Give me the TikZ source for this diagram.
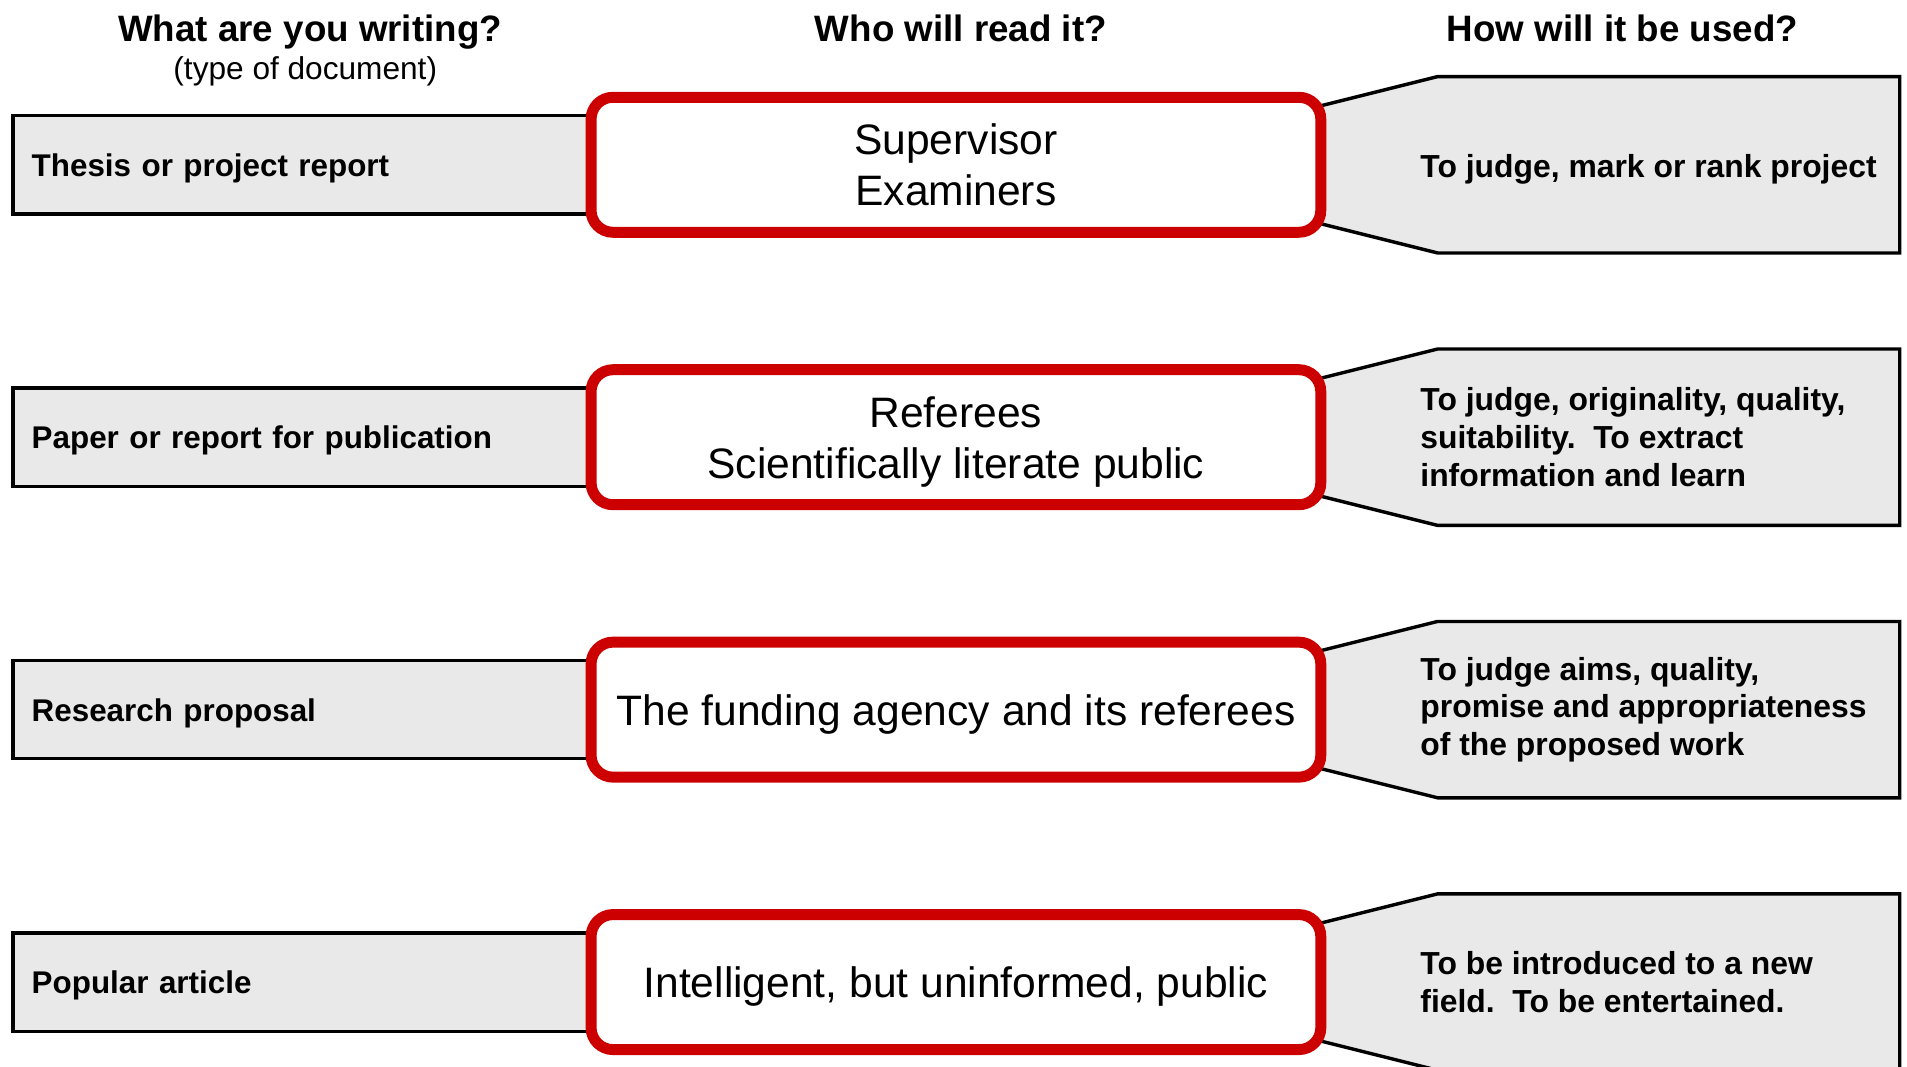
\documentclass[tikz,border=0pt]{standalone}
\usepackage{fontspec}
\setmainfont{Liberation Sans}
\usetikzlibrary{positioning,calc,backgrounds}
\definecolor{readred}{HTML}{CC0000}
\definecolor{boxgrey}{HTML}{E9E9E9}

\begin{document}
\begin{tikzpicture}[
				x=0.5pt,y=0.5pt,
				head/.style={inner sep=0pt,anchor=base,font=\fontsize{15.1}{18}\selectfont\bfseries},
				subhead/.style={inner sep=0pt,anchor=base,font=\fontsize{13}{15.5}\selectfont},
				readbox/.style={draw=readred,line width=4.5pt,rounded corners=9pt,fill=white,minimum width=300pt,minimum height=55.5pt,text depth=0pt,align=center,font=\fontsize{17.5}{21}\selectfont},
				docbox/.style={draw=black,line width=1.4pt,fill=boxgrey,minimum width=387pt,minimum height=40.4pt,inner xsep=7.75pt,text width=371.5pt,text depth=0pt,align=left,anchor=east,font=\fontsize{12.9}{15.5}\selectfont\bfseries},
				usebox/.style={draw=black,line width=1.4pt,fill=boxgrey},
				usetext/.style={inner sep=0pt,align=left,font=\fontsize{13.1}{15.5}\selectfont\bfseries}
				]
				\useasboundingbox (0,0) rectangle (1568,877);
				
				\node[head] (whatq) at (255,843) {What are you writing?};
				\node[subhead] (typeq) at (251,812) {(type of document)};
				\node[head] (whoq) at (790,843) {Who will read it?};
				\node[head] (howq) at (1334,843) {How will it be used?};
				
				\node[readbox] (supervisors) at (786,741.5) {Supervisor\\Examiners};
				\node[readbox,below=52pt of supervisors] (referees) {Referees\\Scientifically literate public};
				\node[readbox,below=52pt of referees] (agency) {The funding agency and its referees};
				\node[readbox,below=52pt of agency] (public) {Intelligent, but uninformed, public};
				
				\begin{scope}[on background layer]
				\node[docbox] (thesis) at (supervisors.center) {Thesis or project report};
				\node[docbox] (paper) at (referees.center) {Paper or report for publication};
				\node[docbox] (proposal) at (agency.center) {Research proposal};
				\node[docbox] (popular) at (public.center) {Popular article};
				
				\draw[usebox] ($(supervisors.east)+(-4.5,48.5)$) -- ++(96,24) -- ++(380,0) -- ++(0,-145) -- ++(-380,0) -- ++(-96,24) -- cycle;
				\draw[usebox] ($(referees.east)+(-4.5,48.5)$) -- ++(96,24) -- ++(380,0) -- ++(0,-145) -- ++(-380,0) -- ++(-96,24) -- cycle;
				\draw[usebox] ($(agency.east)+(-4.5,48.5)$) -- ++(96,24) -- ++(380,0) -- ++(0,-145) -- ++(-380,0) -- ++(-96,24) -- cycle;
				\draw[usebox] ($(public.east)+(-4.5,48.5)$) -- ++(96,24) -- ++(380,0) -- ++(0,-145) -- ++(-380,0) -- ++(-96,24) -- cycle;
				\end{scope}
				
				\node[usetext,right=38.5pt of supervisors,yshift=-2pt] (judge) {To judge, mark or rank project};
				\node[usetext,right=38.5pt of referees] (originality) {To judge, originality, quality,\\suitability.\ \ To extract\\information and learn};
				\node[usetext,right=38.5pt of agency] (aims) {To judge aims, quality,\\promise and appropriateness\\of the proposed work};
				\node[usetext,right=38.5pt of public] (entertain) {To be introduced to a new\\field.\ \ To be entertained.};
				
			\end{tikzpicture}
\end{document}
